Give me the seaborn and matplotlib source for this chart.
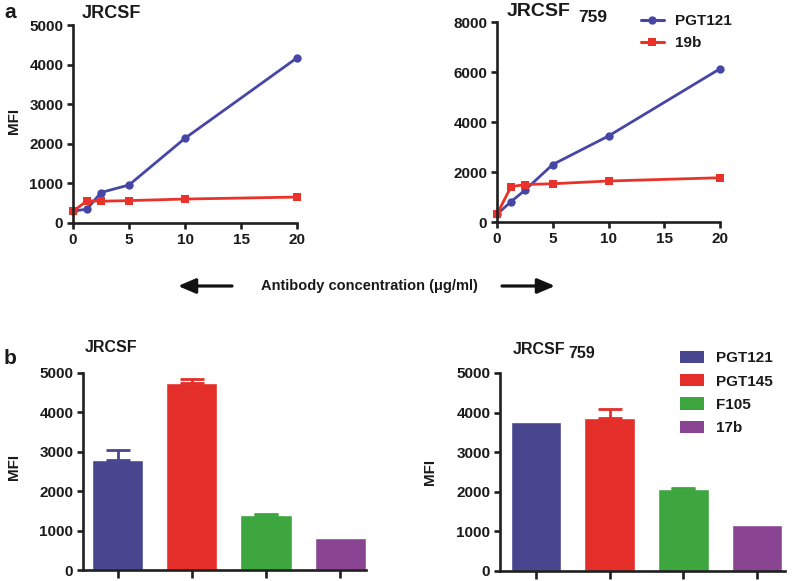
import numpy as np
import pandas as pd
import matplotlib
matplotlib.use("Agg")
import matplotlib.pyplot as plt
import seaborn as sns
from matplotlib.patches import Patch
from matplotlib.lines import Line2D

# ---- data ----
conc = [0, 1.25, 2.5, 5, 10, 20]
line_names = ["PGT121", "19b"]
jrcsf_pgt121 = [300, 350, 770, 960, 2140, 4170]
jrcsf_19b = [295, 560, 550, 565, 605, 655]
j759_pgt121 = [310, 810, 1270, 2300, 3440, 6130]
j759_19b = [310, 1410, 1500, 1530, 1640, 1770]

bar_names = ["PGT121", "PGT145", "F105", "17b"]
jrcsf_bar = [2800, 4755, 1400, 805]
jrcsf_err = [245, 85, 25, 0]
j759_bar = [3775, 3875, 2065, 1150]
j759_err = [0, 210, 25, 0]

line_colors = {"PGT121": "#4646A6", "19b": "#E8322A"}
bar_colors = ["#47468F", "#E42E29", "#3DA63E", "#8A4592"]

sns.set_style("ticks")
plt.rcParams["font.family"] = ["Liberation Sans", "DejaVu Sans"]
plt.rcParams["font.weight"] = "bold"
TXT = "#1a1a1a"
W, H = 796, 581

fig = plt.figure(figsize=(W / 100, H / 100), dpi=100)


def px_axes(x0, x1, ytop, ybot):
    return fig.add_axes([x0 / W, 1 - ybot / H, (x1 - x0) / W, (ybot - ytop) / H])


def style_axes(ax):
    sns.despine(ax=ax)
    for s in ("left", "bottom"):
        ax.spines[s].set_linewidth(1.9)
        ax.spines[s].set_color("#1f1f1f")
    ax.tick_params(width=1.9, length=4.5, color="#1f1f1f", labelsize=11,
                   labelcolor=TXT, pad=2.5)
    for lab in ax.get_xticklabels() + ax.get_yticklabels():
        lab.set_fontweight("bold")
    ax.set_xlabel("")
    ax.set_ylabel("")


def line_panel(ax, y1, y2, ymax, ystep):
    df = pd.DataFrame({
        "conc": conc * 2,
        "MFI": y1 + y2,
        "Antibody": [line_names[0]] * len(conc) + [line_names[1]] * len(conc),
    })
    sns.lineplot(data=df, x="conc", y="MFI", hue="Antibody", style="Antibody",
                 palette=line_colors, markers={"PGT121": "o", "19b": "s"},
                 dashes=False, linewidth=2.0, markersize=6, markeredgewidth=0,
                 legend=False, ax=ax, clip_on=False)
    ax.set_xlim(0, 20)
    ax.set_ylim(0, ymax)
    ax.set_xticks([0, 5, 10, 15, 20])
    ax.set_yticks(np.arange(0, ymax + 1, ystep))
    style_axes(ax)


def bar_panel(ax, vals, errs, xmin, xmax):
    df = pd.DataFrame({"Antibody": bar_names, "MFI": vals})
    sns.barplot(data=df, x="Antibody", y="MFI", hue="Antibody",
                palette=bar_colors, width=0.69, errorbar=None, legend=False,
                saturation=1, ax=ax)
    for i, (v, e) in enumerate(zip(vals, errs)):
        if e > 0:
            ax.errorbar(i, v, yerr=[[0], [e]], fmt="none", ecolor=bar_colors[i],
                        elinewidth=2, capsize=8.5, capthick=2)
    ax.set_xlim(xmin, xmax)
    ax.set_ylim(0, 5000)
    ax.set_yticks(np.arange(0, 5001, 1000))
    ax.set_xticks(range(4))
    ax.set_xticklabels([])
    style_axes(ax)
    ax.tick_params(axis="x", length=6)


# panel a
ax1 = px_axes(73, 297, 25, 223)
line_panel(ax1, jrcsf_pgt121, jrcsf_19b, 5000, 1000)
ax2 = px_axes(497, 720, 22, 222)
line_panel(ax2, j759_pgt121, j759_19b, 8000, 2000)

# panel b
ax3 = px_axes(83, 366, 373, 570)
bar_panel(ax3, jrcsf_bar, jrcsf_err, -0.47, 3.35)
ax4 = px_axes(500, 785, 373, 571)
bar_panel(ax4, j759_bar, j759_err, -0.49, 3.38)


def ftext(x, y, s, **kw):
    kw.setdefault("color", TXT)
    kw.setdefault("fontweight", "bold")
    fig.text(x / W, 1 - y / H, s, **kw)


# panel letters and titles
ftext(4, 12, "a", fontsize=15, va="center", ha="left")
ftext(4, 359, "b", fontsize=15, va="center", ha="left")
ftext(82, 13, "JRCSF", fontsize=13, va="center", ha="left")
ftext(507, 12, "JRCSF", fontsize=14, va="center", ha="left")
ftext(578, 17, "759", fontsize=12.5, va="center", ha="left")
ftext(85, 347, "JRCSF", fontsize=11.5, va="center", ha="left")
ftext(513, 349, "JRCSF", fontsize=11.5, va="center", ha="left")
ftext(568, 353, "759", fontsize=11.5, va="center", ha="left")

# MFI labels
ftext(14, 121, "MFI", fontsize=11, rotation=90, va="center", ha="center")
ftext(14, 467, "MFI", fontsize=11, rotation=90, va="center", ha="center")
ftext(430, 472, "MFI", fontsize=11, rotation=90, va="center", ha="center")

# axis title with arrows
ftext(369, 286, "Antibody concentration (\u03bcg/ml)", fontsize=10.5,
      va="center", ha="center")
arrow_kw = dict(arrowstyle="-|>,head_length=0.75,head_width=0.32", lw=2.3,
                color="#111111", shrinkA=0, shrinkB=0)
fig.add_artist(matplotlib.patches.FancyArrowPatch(
    (232 / W, 1 - 286 / H), (178 / W, 1 - 286 / H),
    transform=fig.transFigure, mutation_scale=14, **arrow_kw))
fig.add_artist(matplotlib.patches.FancyArrowPatch(
    (502 / W, 1 - 286 / H), (555 / W, 1 - 286 / H),
    transform=fig.transFigure, mutation_scale=14, **arrow_kw))

# legends
lh = [Line2D([0], [0], color=line_colors[n], lw=2.2,
             marker="o" if n == "PGT121" else "s", markersize=6,
             markeredgewidth=0) for n in line_names]
leg1 = fig.legend(lh, line_names, loc="upper left",
                  bbox_to_anchor=(641 / W, 1 - 14 / H), frameon=False,
                  borderpad=0, borderaxespad=0, handlelength=1.5,
                  handletextpad=0.7, labelspacing=0.55,
                  prop={"weight": "bold", "size": 11})
for t in leg1.get_texts():
    t.set_color(TXT)

bh = [Patch(facecolor=c, edgecolor="none") for c in bar_colors]
leg2 = fig.legend(bh, bar_names, loc="upper left",
                  bbox_to_anchor=(680 / W, 1 - 351 / H), frameon=False,
                  borderpad=0, borderaxespad=0, handlelength=1.6,
                  handleheight=0.85, handletextpad=0.75, labelspacing=0.58,
                  prop={"weight": "bold", "size": 11})
for t in leg2.get_texts():
    t.set_color(TXT)

fig.savefig("out.png", dpi=100)
